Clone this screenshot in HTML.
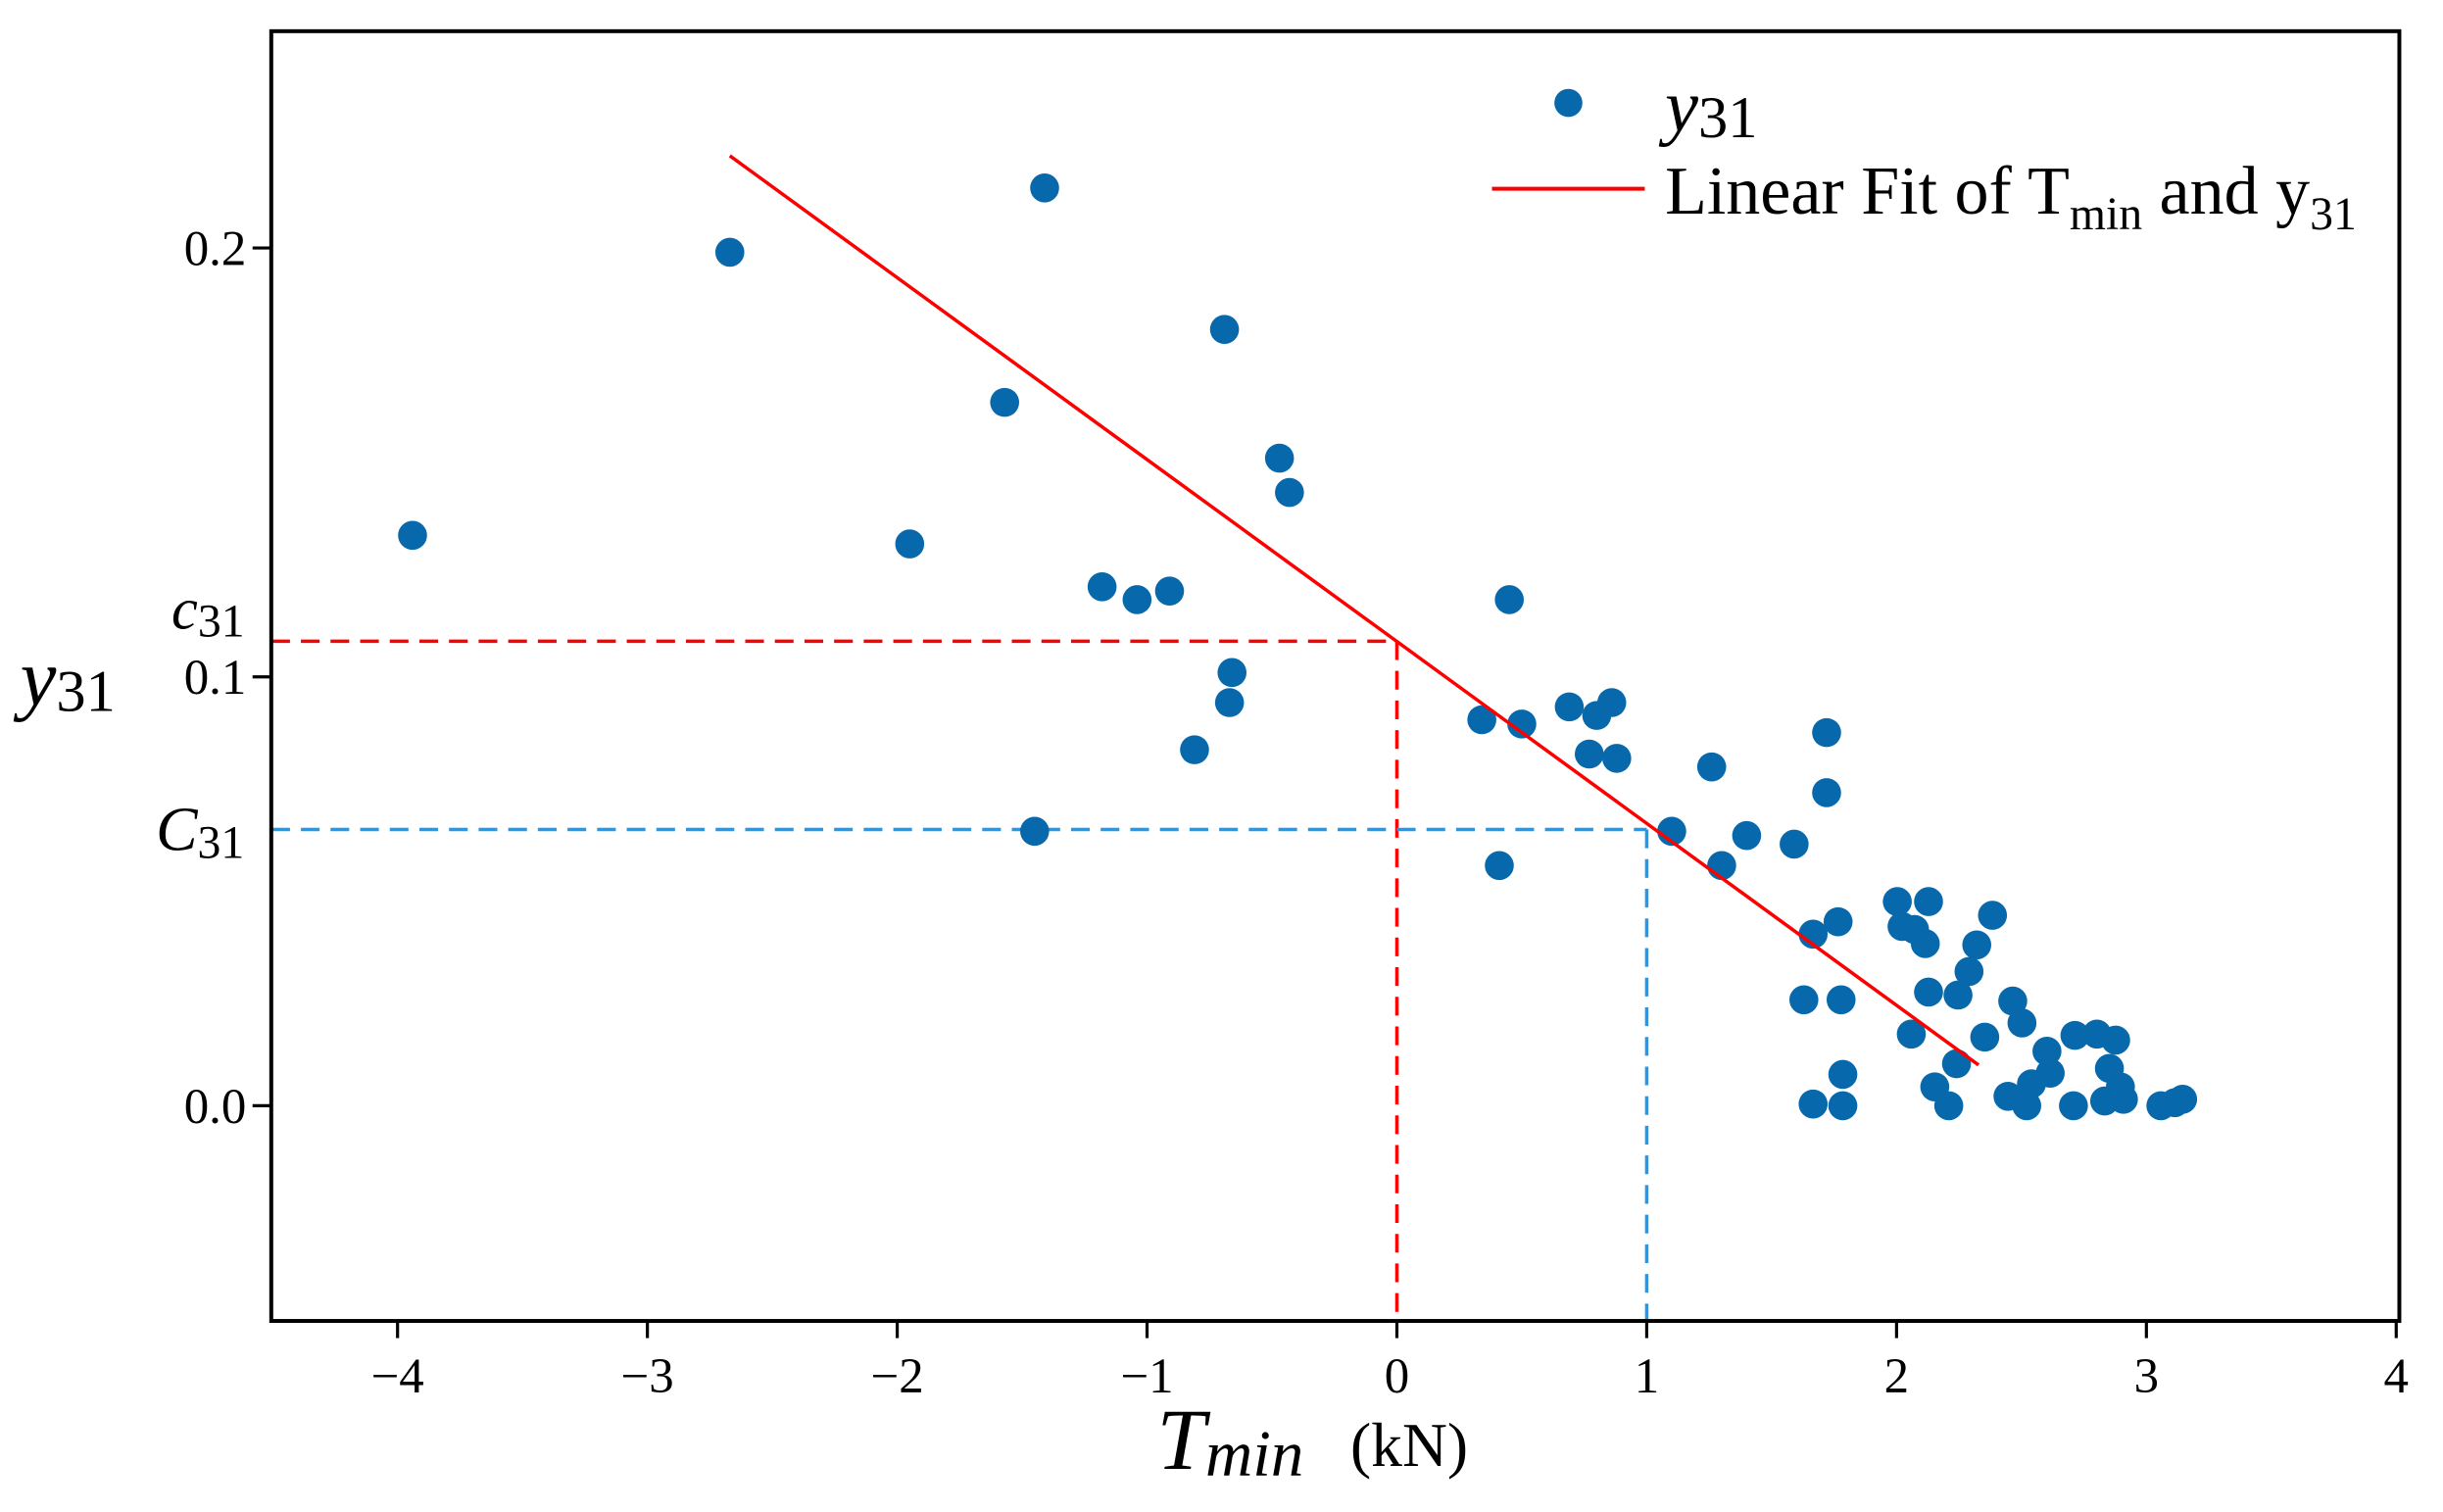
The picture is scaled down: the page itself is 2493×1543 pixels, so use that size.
<!DOCTYPE html>
<html><head><meta charset="utf-8"><style>
html,body{margin:0;padding:0;background:#fff;}
svg{display:block;font-family:"Liberation Serif",serif;}
</style></head><body>
<svg id="chart" width="2493" height="1543" viewBox="0 0 1567 969.5" preserveAspectRatio="none" xmlns="http://www.w3.org/2000/svg">
<rect x="0" y="0" width="1567" height="970" fill="#fff"/>
<g id="marks"></g>
<rect x="174" y="20" width="1365" height="827" fill="none" stroke="#000" stroke-width="2.5"/>
<g id="axes"></g>
<text x="13" y="452" font-size="52" font-style="italic">y<tspan font-size="38" font-style="normal" dy="4">31</tspan></text>
<text x="110" y="403" font-size="38" font-style="italic">c<tspan font-size="30" font-style="normal" dy="5">31</tspan></text>
<text x="100" y="545" font-size="40" font-style="italic">C<tspan font-size="30" font-style="normal" dy="5">31</tspan></text>
<text x="742" y="942" font-size="56" font-style="italic">T<tspan font-size="42" dy="4">min</tspan><tspan font-size="40" font-style="normal" dx="30" dy="-6">(kN)</tspan></text>
<g>
<circle cx="1006" cy="66" r="9" fill="#0868AC"/>
<text x="1068" y="84" font-size="48" font-style="italic">y<tspan font-size="38" font-style="normal" dy="4">31</tspan></text>
<line x1="957" y1="121" x2="1055" y2="121" stroke="#FF0000" stroke-width="2.5"/>
<text x="1068" y="137" font-size="44">Linear Fit of T<tspan font-size="30" dy="10">min</tspan><tspan dy="-10"> and y</tspan><tspan font-size="30" dy="10">31</tspan></text>
</g>
</svg>
<script>
const xVals=[-3.94,-2.67,-1.41,-0.69,-1.57,-0.47,-0.43,-1.95,-1.18,-1.04,-0.91,-0.66,-0.67,-0.81,-1.45,0.45,0.34,0.50,0.69,0.80,0.86,0.77,0.88,0.41,1.26,1.72,1.72,1.10,1.40,1.30,1.59,1.666,1.766,1.629,1.778,1.785,1.666,1.785,2.003,2.128,2.022,2.072,2.115,2.384,2.321,2.290,2.128,2.246,2.059,2.353,2.465,2.502,2.240,2.153,2.209,2.446,2.521,2.540,2.602,2.615,2.714,2.802,2.877,2.708,2.833,2.852,2.896,2.908,3.058,3.114,3.145];
const yVals=[0.133,0.199,0.214,0.181,0.164,0.151,0.143,0.131,0.121,0.118,0.120,0.101,0.094,0.083,0.064,0.118,0.090,0.089,0.093,0.091,0.094,0.082,0.081,0.056,0.079,0.087,0.073,0.064,0.063,0.056,0.061,0.040,0.0429,0.0247,0.0247,0.0073,0.0004,0.0,0.0476,0.0476,0.0418,0.0411,0.0378,0.0444,0.0375,0.0313,0.0265,0.0258,0.0167,0.0160,0.0244,0.0193,0.0098,0.0044,0.0,0.0022,0.0,0.0051,0.0127,0.0076,0.0164,0.0167,0.0153,0.0,0.0011,0.0087,0.0044,0.0015,0.0,0.0007,0.0015];
const fitX=[-2.67,2.328];
const fitY=[0.2215,0.0095];
const c31=[0,0.1083];
const C31=[1.0,0.0644];
const xTicks=[-4,-3,-2,-1,0,1,2,3,4];
const xTickLabels=["\u22124","\u22123","\u22122","\u22121","0","1","2","3","4"];
const yTicks=[0,0.1,0.2];
const yTickLabels=["0.0","0.1","0.2"];

const X0=174,X1=1539,Y0=20,Y1=847;
function sx(v){return 896+v*160.25;}
function sy(v){return 709-v*2750;}
const NS="http://www.w3.org/2000/svg";
const marks=document.getElementById('marks'),axes=document.getElementById('axes');
function mk(tag,attrs,parent){const e=document.createElementNS(NS,tag);for(const k in attrs)e.setAttribute(k,attrs[k]);parent.appendChild(e);return e;}

let e;
e=mk('line',{x1:X0,y1:sy(c31[1]),x2:sx(c31[0]),y2:sy(c31[1]),stroke:'#FF0000','stroke-width':2.2,'stroke-dasharray':'12 7'},marks);


e=mk('line',{x1:sx(c31[0]),y1:sy(c31[1]),x2:sx(c31[0]),y2:Y1,stroke:'#FF0000','stroke-width':2.2,'stroke-dasharray':'12 7'},marks);


e=mk('line',{x1:X0,y1:sy(C31[1]),x2:sx(C31[0]),y2:sy(C31[1]),stroke:'#1E9BF0','stroke-width':2.2,'stroke-dasharray':'12 7'},marks);


e=mk('line',{x1:sx(C31[0]),y1:sy(C31[1]),x2:sx(C31[0]),y2:Y1,stroke:'#1E9BF0','stroke-width':2.2,'stroke-dasharray':'12 7'},marks);



for(let i=0;i<xVals.length;i++){
  e=mk('circle',{cx:sx(xVals[i]),cy:sy(yVals[i]),r:9.3,fill:'#0868AC'},marks);
  
  
}
e=mk('line',{x1:sx(fitX[0]),y1:sy(fitY[0]),x2:sx(fitX[1]),y2:sy(fitY[1]),stroke:'#FF0000','stroke-width':2.2},marks);



xTicks.forEach((t,i)=>{
  const x=sx(t);
  e=mk('line',{x1:x,y1:Y1,x2:x,y2:Y1+11,stroke:'#000','stroke-width':2},axes);
  
  
  e=mk('text',{x:x,y:893,'font-size':32,'text-anchor':'middle'},axes);
  e.textContent=xTickLabels[i];
  
  
});
yTicks.forEach((t,i)=>{
  const y=sy(t);
  e=mk('line',{x1:X0-12,y1:y,x2:X0,y2:y,stroke:'#000','stroke-width':2},axes);
  
  
  e=mk('text',{x:158,y:y+11,'font-size':32,'text-anchor':'end'},axes);
  e.textContent=yTickLabels[i];
  
  
});
</script>
</body></html>
